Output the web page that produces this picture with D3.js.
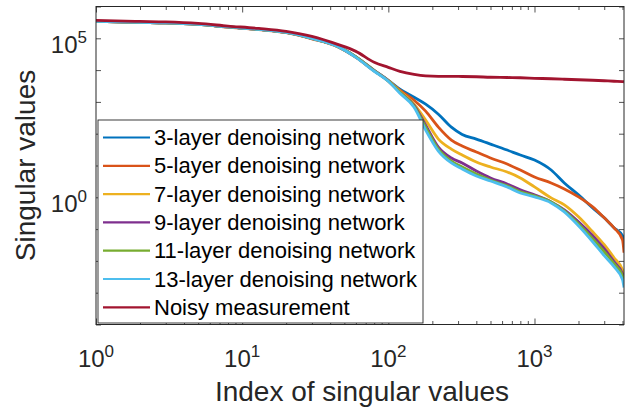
<!DOCTYPE html>
<html>
<head>
<meta charset="utf-8">
<script src="https://cdn.jsdelivr.net/npm/d3@7"></script>
<style>
  body { margin: 0; background: #fff; }
  svg { display: block; }
  text { font-family: "Liberation Sans", Arial, Helvetica, sans-serif; }
</style>
</head>
<body>
<svg id="chart" width="633" height="413"></svg>
<script>
// Index of each sampled singular value
const indices = [1, 2, 3, 5, 8, 13, 20, 30, 45, 60, 80, 100, 120, 150, 180, 220, 270, 320,
  400, 500, 650, 800, 1000, 1300, 1600, 2000, 2500, 3000, 3500, 4000, 4096];

// Singular values of each reconstruction
const net3 = [3.39e5, 3.15e5, 3.04e5, 2.73e5, 2.28e5, 1.90e5, 1.53e5, 9.9e4, 5.57e4, 2.6e4, 9.86e3, 4.79e3,
  2.50e3, 1.40e3, 847, 411, 161, 95.0, 67.8, 47.2, 30.6, 21.3, 14.9, 7.22, 2.82, 1.19, 0.466, 0.226, 0.110, 0.0617, 0.0461];
const net5 = [3.39e5, 3.15e5, 3.04e5, 2.73e5, 2.25e5, 1.87e5, 1.50e5, 9.6e4, 5.4e4, 2.5e4, 9.5e3, 4.7e3,
  2.33e3, 1.13e3, 511, 161, 63.0, 40.8, 26.5, 17.2, 11.1, 7.22, 4.36, 2.82, 1.83, 1.03, 0.500, 0.226, 0.110, 0.0461, 0.0181];
const net7 = [3.39e5, 3.15e5, 3.04e5, 2.73e5, 2.28e5, 1.90e5, 1.53e5, 9.9e4, 5.57e4, 2.6e4, 9.7e3, 4.7e3,
  2.16e3, 847, 267, 67.8, 32.9, 21.3, 12.9, 8.97, 6.25, 4.06, 2.12, 0.958, 0.578, 0.243, 0.0822, 0.0322, 0.0126, 0.00530, 0.00320];
const net9 = [3.39e5, 3.15e5, 3.04e5, 2.73e5, 2.28e5, 1.90e5, 1.53e5, 9.9e4, 5.57e4, 2.6e4, 9.6e3, 4.6e3,
  2.01e3, 787, 186, 38.0, 17.2, 12.0, 6.72, 4.06, 2.63, 1.71, 1.19, 0.718, 0.403, 0.169, 0.0617, 0.0241, 0.00944, 0.00397, 0.00258];
const net11 = [3.39e5, 3.15e5, 3.04e5, 2.73e5, 2.28e5, 1.90e5, 1.53e5, 9.9e4, 5.57e4, 2.6e4, 9.4e3, 4.5e3,
  2.01e3, 733, 161, 32.9, 13.8, 8.97, 5.41, 3.51, 2.28, 1.48, 1.11, 0.718, 0.375, 0.147, 0.0497, 0.0194, 0.00817, 0.00344, 0.00193];
const net13 = [3.39e5, 3.15e5, 3.04e5, 2.73e5, 2.28e5, 1.90e5, 1.53e5, 9.9e4, 5.57e4, 2.5e4, 9.2e3, 4.46e3,
  1.87e3, 682, 130, 28.4, 12.0, 7.76, 4.69, 3.26, 2.12, 1.37, 1.03, 0.667, 0.348, 0.127, 0.0400, 0.0146, 0.00658, 0.00258, 0.00145];
const noisy = [3.64e5, 3.39e5, 3.27e5, 2.93e5, 2.43e5, 2.04e5, 1.65e5, 1.15e5, 6.44e4, 3.88e4, 1.76e4, 1.22e4,
  9.17e3, 7.38e3, 6.62e3, 6.39e3, 6.39e3, 6.30e3, 6.17e3, 5.95e3, 5.85e3, 5.74e3, 5.53e3, 5.34e3, 5.15e3, 4.97e3, 4.79e3, 4.62e3, 4.46e3, 4.36e3, 4.30e3];

const seriesNames = [
  "3-layer denoising network", "5-layer denoising network", "7-layer denoising network",
  "9-layer denoising network", "11-layer denoising network", "13-layer denoising network",
  "Noisy measurement"
];
const seriesValues = [net3, net5, net7, net9, net11, net13, noisy];
const seriesColors = ["#0072BD", "#D95319", "#EDB120", "#7E2F8E", "#77AC30", "#4DBEEE", "#A2142F"];

// Axis ticks (exponents of ten)
const xTickExps = [0, 1, 2, 3];
const yTickExps = [-4, -3, -2, -1, 0, 1, 2, 3, 4, 5, 6];
const yLabelExps = [0, 5];

const plot = { left: 96, right: 624, top: 6.5, bottom: 324.5 };
const axisColor = "#262626";

const svg = d3.select("#chart");

const x = d3.scaleLog().domain([1, 4096]).range([plot.left, plot.right]);
const y = d3.scaleLog().domain([1e-4, 1e6]).range([plot.bottom, plot.top]);

// Curves
const line = d3.line()
  .x(d => x(d[0]))
  .y(d => y(d[1]))
  .curve(d3.curveMonotoneX);

svg.append("clipPath").attr("id", "plotclip")
  .append("rect")
  .attr("x", plot.left).attr("y", plot.top)
  .attr("width", plot.right - plot.left).attr("height", plot.bottom - plot.top);

svg.append("g").attr("clip-path", "url(#plotclip)")
  .selectAll("path")
  .data(seriesValues)
  .join("path")
  .attr("d", vals => line(indices.map((k, i) => [k, vals[i]])))
  .attr("fill", "none")
  .attr("stroke", (d, i) => seriesColors[i])
  .attr("stroke-width", 2.8)
  .attr("stroke-linejoin", "round");

// Ticks: major and minor on the x axes (bottom and top), decades on the y axes
const xMajor = xTickExps.map(e => Math.pow(10, e));
const xMinor = [];
for (let e = 0; e <= 3; e++) {
  for (let m = 2; m <= 9; m++) {
    const v = m * Math.pow(10, e);
    if (v <= 4096) xMinor.push(v);
  }
}
const yMajor = yTickExps.map(e => Math.pow(10, e));

function styleAxis(g) {
  g.select(".domain").remove();
  g.selectAll(".tick line").attr("stroke", axisColor).attr("stroke-width", 0.8);
  g.selectAll(".tick text").remove();
}

svg.append("g").attr("transform", `translate(0,${plot.bottom})`)
  .call(d3.axisBottom(x).tickValues(xMajor).tickSize(-6).tickFormat(""))
  .call(styleAxis);
svg.append("g").attr("transform", `translate(0,${plot.bottom})`)
  .call(d3.axisBottom(x).tickValues(xMinor).tickSize(-3.5).tickFormat(""))
  .call(styleAxis);
svg.append("g").attr("transform", `translate(0,${plot.top})`)
  .call(d3.axisTop(x).tickValues(xMajor).tickSize(-6).tickFormat(""))
  .call(styleAxis);
svg.append("g").attr("transform", `translate(0,${plot.top})`)
  .call(d3.axisTop(x).tickValues(xMinor).tickSize(-3.5).tickFormat(""))
  .call(styleAxis);
svg.append("g").attr("transform", `translate(${plot.left},0)`)
  .call(d3.axisLeft(y).tickValues(yMajor).tickSize(-5).tickFormat(""))
  .call(styleAxis);
svg.append("g").attr("transform", `translate(${plot.right},0)`)
  .call(d3.axisRight(y).tickValues(yMajor).tickSize(-5).tickFormat(""))
  .call(styleAxis);

// Axes box
svg.append("rect")
  .attr("x", plot.left).attr("y", plot.top)
  .attr("width", plot.right - plot.left).attr("height", plot.bottom - plot.top)
  .attr("fill", "none").attr("stroke", axisColor).attr("stroke-width", 1);

// Tick labels as powers of ten
function powLabel(sel, exp) {
  sel.append("tspan").text("10");
  sel.append("tspan").attr("dy", -10).attr("font-size", 17).text(exp);
}

svg.append("g").selectAll("text")
  .data(xTickExps)
  .join("text")
  .attr("x", e => x(Math.pow(10, e)))
  .attr("y", 367)
  .attr("text-anchor", "middle")
  .attr("font-size", 24)
  .attr("fill", axisColor)
  .each(function (e) { powLabel(d3.select(this), e); });

svg.append("g").selectAll("text")
  .data(yLabelExps)
  .join("text")
  .attr("x", 87)
  .attr("y", e => y(Math.pow(10, e)) + 15)
  .attr("text-anchor", "end")
  .attr("font-size", 24)
  .attr("fill", axisColor)
  .each(function (e) { powLabel(d3.select(this), e); });

// Axis titles
svg.append("text")
  .attr("x", (plot.left + plot.right) / 2 + 2)
  .attr("y", 401)
  .attr("text-anchor", "middle")
  .attr("font-size", 28)
  .attr("fill", axisColor)
  .text("Index of singular values");

svg.append("text")
  .attr("transform", `translate(35,${(plot.top + plot.bottom) / 2}) rotate(-90)`)
  .attr("text-anchor", "middle")
  .attr("font-size", 28)
  .attr("fill", axisColor)
  .text("Singular values");

// Legend
const legend = { x: 98, y: 120, w: 325, h: 203, rowH: 28.3, firstBaseline: 145 };
const lg = svg.append("g");
lg.append("rect")
  .attr("x", legend.x).attr("y", legend.y)
  .attr("width", legend.w).attr("height", legend.h)
  .attr("fill", "#fff").attr("stroke", axisColor).attr("stroke-width", 0.9);

const rows = lg.selectAll("g.row")
  .data(seriesNames)
  .join("g")
  .attr("class", "row")
  .attr("transform", (d, i) => `translate(0,${legend.firstBaseline + i * legend.rowH})`);

rows.append("line")
  .attr("x1", 103).attr("x2", 150)
  .attr("y1", -7.5).attr("y2", -7.5)
  .attr("stroke", (d, i) => seriesColors[i])
  .attr("stroke-width", 2.2);

rows.append("text")
  .attr("x", 154)
  .attr("y", 0)
  .attr("font-size", 22)
  .attr("fill", "#000")
  .text(d => d);
</script>
</body>
</html>
